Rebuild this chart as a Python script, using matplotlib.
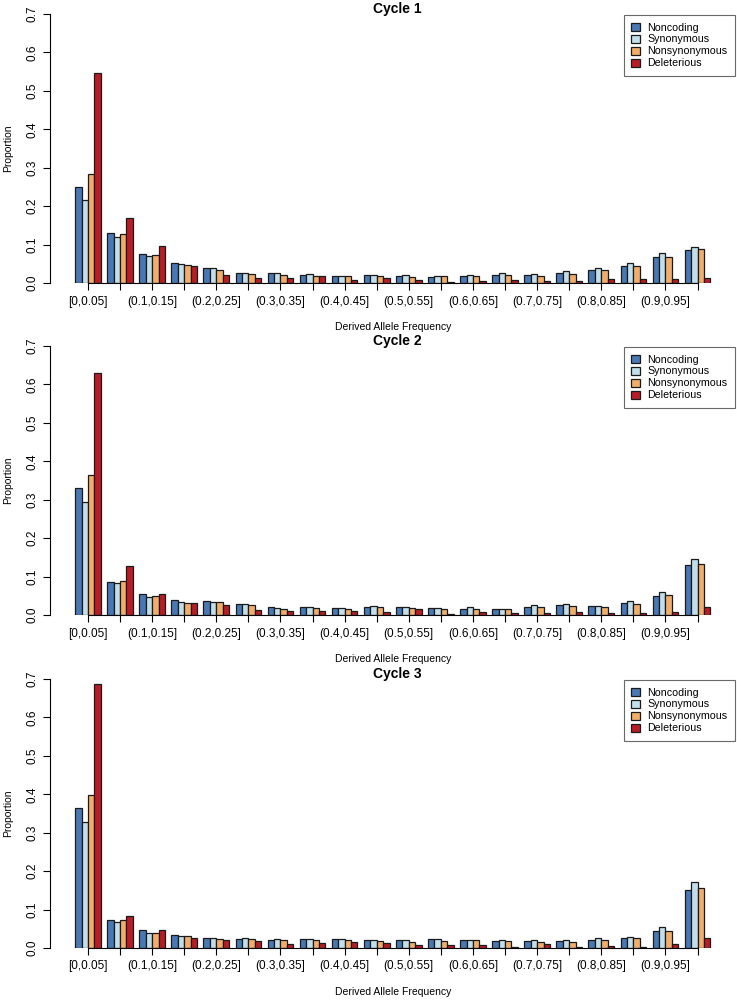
import matplotlib
matplotlib.use('Agg')
import matplotlib.pyplot as plt
import numpy as np

plt.rcParams['font.family'] = ['Liberation Sans', 'DejaVu Sans']

categories = ['Noncoding', 'Synonymous', 'Nonsynonymous', 'Deleterious']
colors = ['#4a78b4', '#c0deec', '#f0ae6a', '#b81d26']

bins = ['[0,0.05]', '(0.05,0.1]', '(0.1,0.15]', '(0.15,0.2]', '(0.2,0.25]', '(0.25,0.3]',
        '(0.3,0.35]', '(0.35,0.4]', '(0.4,0.45]', '(0.45,0.5]', '(0.5,0.55]', '(0.55,0.6]',
        '(0.6,0.65]', '(0.65,0.7]', '(0.7,0.75]', '(0.75,0.8]', '(0.8,0.85]', '(0.85,0.9]',
        '(0.9,0.95]', '(0.95,1]']

# cycle 1: one list per bin -> noncoding, synonymous, nonsynonymous, deleterious
cycle1 = [
    [0.250, 0.217, 0.284, 0.547],
    [0.130, 0.120, 0.128, 0.170],
    [0.076, 0.071, 0.072, 0.096],
    [0.053, 0.050, 0.048, 0.044],
    [0.038, 0.038, 0.035, 0.022],
    [0.027, 0.025, 0.023, 0.012],
    [0.027, 0.027, 0.022, 0.012],
    [0.021, 0.023, 0.019, 0.017],
    [0.019, 0.019, 0.018, 0.007],
    [0.020, 0.022, 0.019, 0.014],
    [0.019, 0.021, 0.016, 0.009],
    [0.016, 0.019, 0.017, 0.003],
    [0.018, 0.021, 0.017, 0.006],
    [0.021, 0.025, 0.020, 0.008],
    [0.022, 0.023, 0.019, 0.006],
    [0.027, 0.032, 0.024, 0.005],
    [0.034, 0.040, 0.034, 0.010],
    [0.044, 0.052, 0.043, 0.010],
    [0.067, 0.078, 0.067, 0.010],
    [0.085, 0.093, 0.088, 0.012],
]

cycle2 = [
    [0.331, 0.295, 0.364, 0.630],
    [0.086, 0.083, 0.089, 0.128],
    [0.054, 0.047, 0.050, 0.054],
    [0.038, 0.034, 0.030, 0.031],
    [0.036, 0.035, 0.033, 0.026],
    [0.028, 0.029, 0.026, 0.012],
    [0.020, 0.019, 0.016, 0.010],
    [0.021, 0.022, 0.019, 0.011],
    [0.019, 0.017, 0.016, 0.010],
    [0.021, 0.024, 0.021, 0.009],
    [0.021, 0.022, 0.017, 0.016],
    [0.018, 0.018, 0.016, 0.003],
    [0.016, 0.022, 0.016, 0.008],
    [0.016, 0.016, 0.015, 0.004],
    [0.022, 0.026, 0.020, 0.006],
    [0.026, 0.029, 0.024, 0.007],
    [0.024, 0.024, 0.020, 0.006],
    [0.031, 0.037, 0.029, 0.005],
    [0.049, 0.060, 0.053, 0.008],
    [0.131, 0.147, 0.133, 0.022],
]

cycle3 = [
    [0.364, 0.329, 0.399, 0.686],
    [0.074, 0.068, 0.072, 0.084],
    [0.047, 0.040, 0.040, 0.048],
    [0.035, 0.031, 0.030, 0.027],
    [0.027, 0.026, 0.024, 0.022],
    [0.024, 0.026, 0.024, 0.017],
    [0.022, 0.024, 0.021, 0.010],
    [0.024, 0.024, 0.022, 0.013],
    [0.024, 0.024, 0.022, 0.015],
    [0.021, 0.021, 0.019, 0.012],
    [0.020, 0.022, 0.016, 0.009],
    [0.023, 0.024, 0.019, 0.009],
    [0.022, 0.022, 0.020, 0.009],
    [0.018, 0.022, 0.018, 0.003],
    [0.019, 0.022, 0.016, 0.010],
    [0.019, 0.021, 0.016, 0.003],
    [0.022, 0.026, 0.022, 0.005],
    [0.026, 0.029, 0.025, 0.003],
    [0.044, 0.054, 0.043, 0.011],
    [0.151, 0.172, 0.155, 0.026],
]

titles = ['Cycle 1', 'Cycle 2', 'Cycle 3']
panel_bottoms = [0.717, 0.385, 0.052]

fig = plt.figure(figsize=(7.37, 10), dpi=100)

for data, title, bottom in zip([cycle1, cycle2, cycle3], titles, panel_bottoms):
    vals = np.array(data)
    ax = fig.add_axes([0.0674, bottom, 0.931, 0.269])
    n = len(bins)
    # R barplot layout: bar width 1, one unit gap between groups
    for j in range(len(categories)):
        x = np.arange(n) * 5 + j + 1.5
        ax.bar(x, vals[:, j], width=1, color=colors[j], edgecolor='#1a1a1a',
               linewidth=0.9, label=categories[j])
    centers = np.arange(n) * 5 + 3
    ax.set_xlim(-2.96, 103.96)
    ax.set_ylim(0, 0.7)

    ax.spines['top'].set_visible(False)
    ax.spines['right'].set_visible(False)
    ax.spines['left'].set_bounds(0, 0.7)
    ax.spines['bottom'].set_bounds(centers[0], centers[-1])
    for s in ['left', 'bottom']:
        ax.spines[s].set_linewidth(0.8)

    ax.set_yticks(np.arange(0, 0.71, 0.1))
    ax.set_yticklabels(['%.1f' % v for v in np.arange(0, 0.71, 0.1)],
                       rotation=90, va='center', fontsize=8.5)
    ax.set_xticks(centers)
    ax.set_xticklabels([b if i % 2 == 0 else '' for i, b in enumerate(bins)], fontsize=8.5)
    ax.tick_params(axis='both', direction='out', length=5, width=0.8, pad=4)
    ax.tick_params(axis='y', pad=3)

    ax.set_ylabel('Proportion', fontsize=7.5, labelpad=10)
    ax.set_xlabel('Derived Allele Frequency', fontsize=7.5, labelpad=10.5)
    ax.annotate(title, xy=(0.5, 1), xycoords='axes fraction', xytext=(3, 3.5),
                textcoords='offset points', ha='center', va='center',
                fontsize=10, fontweight='bold')

    leg = ax.legend(loc='upper right', fontsize=7.7, frameon=True, fancybox=False,
                    borderaxespad=0.1, handlelength=0.8, handleheight=0.8,
                    handletextpad=0.7, labelspacing=0.18, borderpad=0.7)
    leg.get_frame().set_edgecolor('#444444')
    leg.get_frame().set_linewidth(0.8)

fig.savefig('out.png', dpi=100)
